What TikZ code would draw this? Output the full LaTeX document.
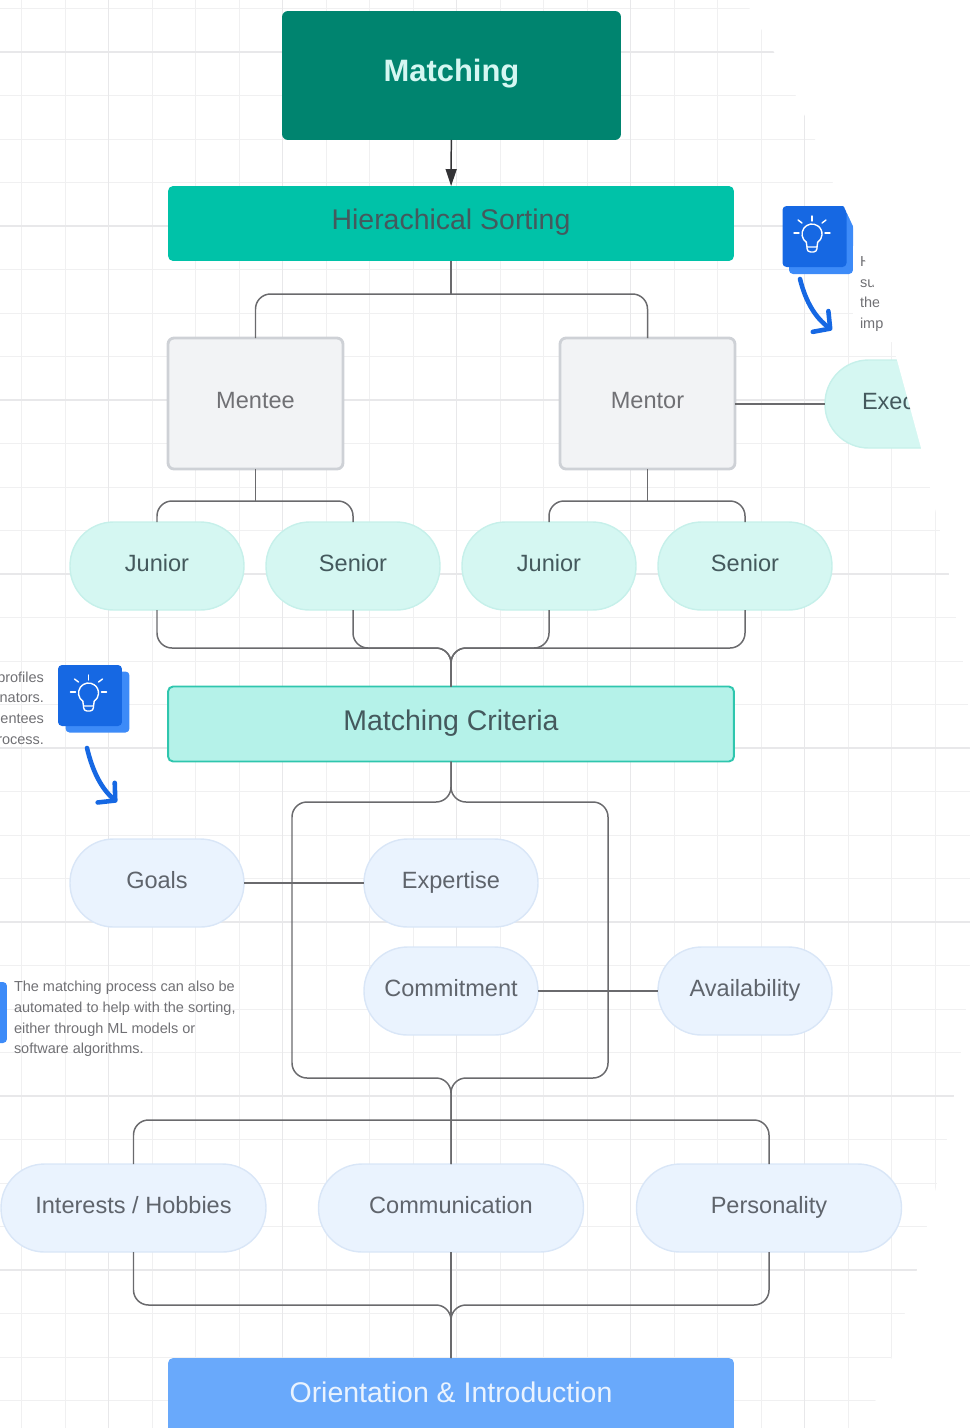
\documentclass[tikz,border=0pt]{standalone}
\usepackage{fontspec}
\setmainfont{Liberation Sans}
\usetikzlibrary{arrows.meta}
\definecolor{gridminor}{HTML}{F0F0F1}
\definecolor{gridmajor}{HTML}{E8E8EA}
\definecolor{linegray}{HTML}{6A6A6D}
\definecolor{tipgray}{HTML}{333336}
\definecolor{darkteal}{HTML}{00846F}
\definecolor{midteal}{HTML}{00C2A8}
\definecolor{paleteal}{HTML}{B5F2E9}
\definecolor{paleedge}{HTML}{2FC6AE}
\definecolor{mintfill}{HTML}{D5F7F2}
\definecolor{mintedge}{HTML}{C6F0EA}
\definecolor{boxfill}{HTML}{F2F3F5}
\definecolor{boxedge}{HTML}{CED1D6}
\definecolor{skyfill}{HTML}{EAF3FE}
\definecolor{skyedge}{HTML}{D9E6F7}
\definecolor{bluefill}{HTML}{69A9FB}
\definecolor{iconblue}{HTML}{1668E3}
\definecolor{iconshade}{HTML}{3D8BF8}
\definecolor{inkteal}{HTML}{44595D}
\definecolor{inkgray}{HTML}{5F646C}
\definecolor{notegray}{HTML}{707074}
\tikzset{
  gridthin/.style={gridminor,line width=0.55pt},
  gridthick/.style={gridmajor,line width=0.65pt},
  base/.style={outer sep=0pt,inner sep=0pt,text height=.74em,text depth=.16em},
  wide/.style={base,text height=.8em,text depth=.1em,minimum width=11.32cm,minimum height=1.5cm,rounded corners=.1cm},
  lead/.style={base,text height=.8em,text depth=.1em,minimum width=6.78cm,minimum height=2.58cm,rounded corners=.12cm,
    fill=darkteal,text=mintfill,font=\fontsize{17.6}{20}\selectfont\bfseries},
  sorting/.style={wide,fill=midteal,text=inkteal,font=\fontsize{16.2}{20}\selectfont},
  criteria/.style={wide,fill=paleteal,draw=paleedge,line width=1.1pt,text=inkteal,font=\fontsize{16.2}{20}\selectfont},
  closing/.style={base,minimum width=11.32cm,rounded corners=.1cm,fill=bluefill,text=skyfill,
    font=\fontsize{16.2}{20}\selectfont},
  person/.style={base,minimum width=3.5cm,minimum height=2.62cm,rounded corners=.12cm,fill=boxfill,
    draw=boxedge,line width=1.6pt,text=notegray,font=\fontsize{13.4}{16}\selectfont},
  level/.style={base,minimum width=3.48cm,minimum height=1.76cm,rounded corners=.87cm,fill=mintfill,
    draw=mintedge,line width=.8pt,text=inkteal,font=\fontsize{13.4}{16}\selectfont},
  trait/.style={level,fill=skyfill,draw=skyedge,text=inkgray},
  traitwide/.style={trait,minimum width=5.3cm},
  note/.style={inner sep=0pt,outer sep=0pt,text=notegray,font=\fontsize{8.25}{11.8}\selectfont},
  iconbox/.style={outer sep=0pt,minimum width=1.28cm,minimum height=1.22cm,rounded corners=.08cm,fill=iconblue},
  iconback/.style={iconbox,fill=iconshade},
  conn/.style={linegray,line width=.85pt,rounded corners=.3cm},
  hint/.style={iconblue,line width=2.6pt,line cap=round,line join=round,
    -{Straight Barb[length=.24cm,width=.52cm,round]}},
  bulbline/.style={white,line width=.8pt,line cap=round,line join=round},
  bulb/.pic={
    \draw [bulbline] (-5.7*\x,6.2*\y) arc [start angle=235,end angle=-55,radius=.2cm];
    \draw [bulbline] (-5.7*\x,6.2*\y) -- (-5*\x,11*\y) -- (5*\x,11*\y) -- (5.7*\x,6.2*\y);
    \draw [bulbline,rounded corners=.07cm] (-5*\x,11*\y) -- (-5*\x,16*\y) -- (5*\x,16*\y) -- (5*\x,11*\y);
    \draw [bulbline] (0*\x,-20*\y) -- (0*\x,-15*\y);
    \draw [bulbline] (-14*\x,-16*\y) -- (-10*\x,-13*\y);
    \draw [bulbline] (14*\x,-16*\y) -- (10*\x,-13*\y);
    \draw [bulbline] (-18*\x,-3*\y) -- (-13*\x,-3*\y);
    \draw [bulbline] (18*\x,-3*\y) -- (13*\x,-3*\y);
  },
}
\begin{document}
\begin{tikzpicture}
    \def\x{0.02}
    \def\y{-0.02}
    \useasboundingbox (0,0) rectangle (970*\x,1428*\y);
    \foreach \i in {0,...,21}
      \draw [gridthin] ({(21.5+43.5*\i)*\x},0) -- ({(21.5+43.5*\i)*\x},1428*\y);
    \foreach \j in {0,...,32}
      \draw [gridthin] (0,{(8.5+43.5*\j)*\y}) -- (970*\x,{(8.5+43.5*\j)*\y});
    \foreach \i in {2,6,...,18}
      \draw [gridthick] ({(21.5+43.5*\i)*\x},0) -- ({(21.5+43.5*\i)*\x},1428*\y);
    \foreach \j in {1,5,...,29}
      \draw [gridthick] (0,{(8.5+43.5*\j)*\y}) -- (970*\x,{(8.5+43.5*\j)*\y});

    \node [lead] (A0_0) at (451.5*\x,75.5*\y) {Matching};
    \node [sorting] (A1_0) at (451*\x,223.5*\y) {Hierachical Sorting};
    \node [person] (A2_0) at (255.5*\x,403.5*\y) {Mentee};
    \node [person] (A2_1) at (647.5*\x,403.5*\y) {Mentor};
    \node [level,anchor=west,align=left,text width=1.96cm,inner xsep=.74cm,minimum width=2.7cm] (A2_2) at (825*\x,404*\y) {Exec};
    \node [level] (A3_0) at (157*\x,566*\y) {Junior};
    \node [level] (A3_1) at (353*\x,566*\y) {Senior};
    \node [level] (A3_2) at (549*\x,566*\y) {Junior};
    \node [level] (A3_3) at (745*\x,566*\y) {Senior};
    \node [criteria] (A4_0) at (451*\x,724*\y) {Matching Criteria};
    \node [trait] (A5_0) at (157*\x,883*\y) {Goals};
    \node [trait] (A5_1) at (451*\x,883*\y) {Expertise};
    \node [trait] (A5_2) at (451*\x,991*\y) {Commitment};
    \node [trait] (A5_3) at (745*\x,991*\y) {Availability};
    \node [traitwide] (A6_0) at (133.5*\x,1208*\y) {Interests / Hobbies};
    \node [traitwide] (A6_1) at (451*\x,1208*\y) {Communication};
    \node [traitwide] (A6_2) at (769*\x,1208*\y) {Personality};
    \node [closing,anchor=base,text height=.88cm,text depth=.64cm] (A7_0) at (451*\x,1402*\y) {Orientation \& Introduction};

    \node [iconback] (I0_1) at (821*\x,243.5*\y) {};
    \node [iconbox] (I0_0) at (814.5*\x,236.5*\y) {};
    \pic at (812*\x,236*\y) {bulb};
    \node [iconback] (I1_1) at (97.5*\x,702*\y) {};
    \node [iconbox] (I1_0) at (90*\x,695.5*\y) {};
    \pic at (88.5*\x,695*\y) {bulb};
    \node [iconback,minimum height=1.22cm] (I2_0) at (-25*\x,1012.5*\y) {};

    \node [note,fill=white,anchor=west,align=left,text width=1cm,inner xsep=.14cm,inner ysep=.2cm] (N0) at (853*\x,294*\y) {H\\su\\the\\imp};
    \node [note,anchor=east,align=right] (N1) at (44*\x,708*\y) {profiles\\nators.\\entees\\rocess.};
    \node [note,anchor=west,align=left] (N2) at (14*\x,1019*\y) {The matching process can also be\\automated to help with the sorting,\\either through ML models or\\software algorithms.};

    \coordinate (B1) at (451*\x,294*\y);
    \coordinate (B2_0) at (255.5*\x,501*\y);
    \coordinate (B2_1) at (647.5*\x,501*\y);
    \coordinate (B3_0) at (157*\x,648*\y);
    \coordinate (B3_1) at (353*\x,648*\y);
    \coordinate (B3_2) at (549*\x,648*\y);
    \coordinate (B3_3) at (745*\x,648*\y);
    \coordinate (B4_0) at (292*\x,802*\y);
    \coordinate (B4_1) at (608*\x,802*\y);
    \coordinate (B5_0) at (292*\x,1078*\y);
    \coordinate (B5_1) at (608*\x,1078*\y);
    \coordinate (B6) at (451*\x,1120*\y);
    \coordinate (B7_0) at (133.5*\x,1305*\y);
    \coordinate (B7_1) at (769*\x,1305*\y);
    \coordinate (H0_0) at (800*\x,279*\y);
    \coordinate (H0_1) at (832*\x,330*\y);
    \coordinate (H1_0) at (87*\x,748*\y);
    \coordinate (H1_1) at (117*\x,802*\y);

    \draw [conn,tipgray,->,>={Stealth[length=.34cm,width=.22cm,inset=0pt]}] (A0_0) -- (A1_0);
    \draw [conn] (A1_0.south) -- (B1);
    \draw [conn] (A2_0.north) |- (B1) -| (A2_1.north);
    \draw [conn] (A2_0.south) -- (B2_0);
    \draw [conn] (A3_0.north) |- (B2_0) -| (A3_1.north);
    \draw [conn] (A2_1.south) -- (B2_1);
    \draw [conn] (A3_2.north) |- (B2_1) -| (A3_3.north);
    \draw [conn] (A2_1.east |- A2_2.west) -- (A2_2.west);
    \draw [conn] (A3_0.south) -- (B3_0) -| (A4_0.north);
    \draw [conn] (A3_1.south) -- (B3_1) -| (A4_0.north);
    \draw [conn] (A3_2.south) -- (B3_2) -| (A4_0.north);
    \draw [conn] (A3_3.south) -- (B3_3) -| (A4_0.north);
    \draw [conn] (A4_0.south) |- (B4_0) -- (B5_0) -| (A6_1.north);
    \draw [conn] (A4_0.south) |- (B4_1) -- (B5_1) -| (A6_1.north);
    \draw [conn] (A5_0) -- (A5_1);
    \draw [conn] (A5_2) -- (A5_3);
    \draw [conn] (A6_0.north) |- (B6) -| (A6_2.north);
    \draw [conn] (A6_0.south) -- (B7_0) -| (A7_0.north);
    \draw [conn] (A6_2.south) -- (B7_1) -| (A7_0.north);
    \draw [conn] (A6_1) -- (A7_0.north);
    \draw [hint] (H0_0) .. controls (806*\x,303*\y) and (816*\x,318*\y) .. (H0_1);
    \draw [hint] (H1_0) .. controls (93*\x,773*\y) and (102*\x,789*\y) .. (H1_1);

    \fill [white] (745*\x,0) -- (774*\x,52*\y) -- (796*\x,96*\y) -- (815*\x,139*\y) -- (833*\x,183*\y)
      -- (853*\x,226*\y) -- (865*\x,260*\y) -- (886*\x,322*\y) -- (897*\x,360*\y) -- (921*\x,448*\y)
      -- (930*\x,487*\y) -- (940*\x,530*\y) -- (949*\x,574*\y) -- (956*\x,617*\y) -- (963*\x,661*\y)
      -- (968*\x,704*\y) -- (970*\x,748*\y) -- (970*\x,965*\y) -- (966*\x,1009*\y) -- (961*\x,1052*\y)
      -- (954*\x,1096*\y) -- (947*\x,1139*\y) -- (937*\x,1183*\y) -- (927*\x,1226*\y) -- (917*\x,1270*\y)
      -- (905*\x,1313*\y) -- (892*\x,1357*\y) -- (876*\x,1400*\y) -- (850*\x,1428*\y) -- (970*\x,1428*\y)
      -- (970*\x,0) -- cycle;
\end{tikzpicture}
\end{document}
